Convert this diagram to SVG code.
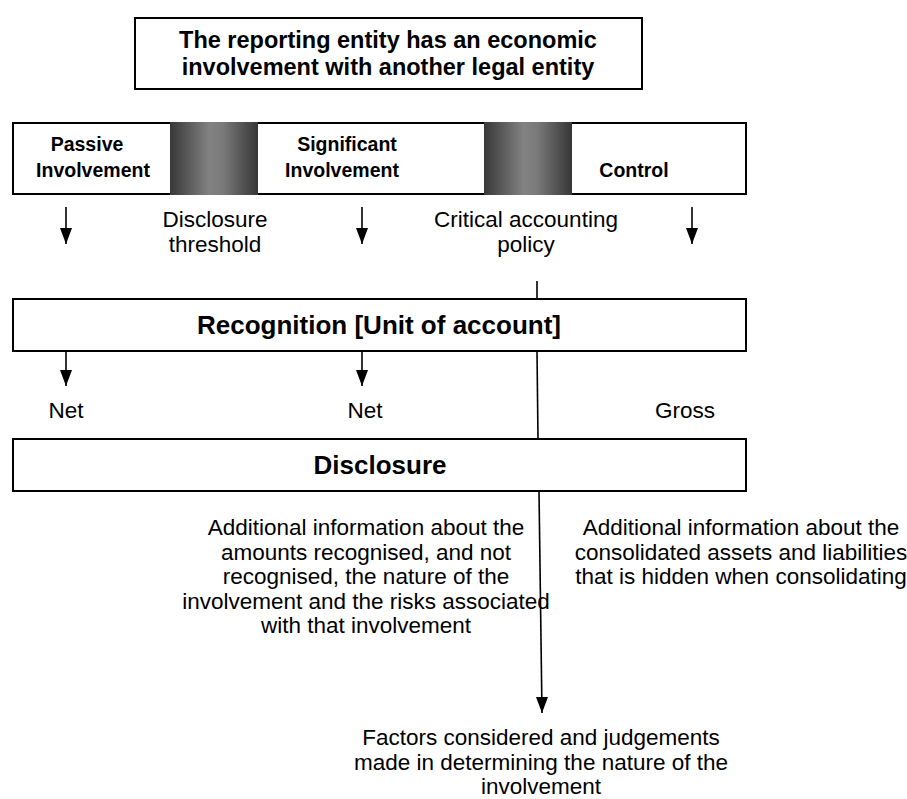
<svg xmlns="http://www.w3.org/2000/svg" width="907" height="799" viewBox="0 0 907 799">
<style>
.box{fill:#fff;stroke:#000;stroke-width:2}
.b{font-family:"Liberation Sans",Arial,sans-serif;font-weight:bold;fill:#000;text-anchor:middle}
.t{font-family:"Liberation Sans",Arial,sans-serif;font-size:22.5px;fill:#000;text-anchor:middle}
.ln{stroke:#000;stroke-width:1.6;fill:none}
</style>
<defs>
<linearGradient id="g" x1="0" y1="0" x2="1" y2="0">
<stop offset="0" stop-color="#383838"/>
<stop offset="0.45" stop-color="#828282"/>
<stop offset="0.6" stop-color="#7a7a7a"/>
<stop offset="1" stop-color="#363636"/>
</linearGradient>
<marker id="av" markerWidth="12" markerHeight="16" refX="6" refY="16" orient="0" markerUnits="userSpaceOnUse" viewBox="0 0 12 16">
<path d="M0,0 L12,0 L6,16 Z" fill="#000"/>
</marker>
</defs>

<g id="top">
<rect class="box" x="135" y="18" width="507" height="71"/>
<text class="b" font-size="23.5" x="388" y="48">The reporting entity has an economic</text>
<text class="b" font-size="23.5" x="388" y="75">involvement with another legal entity</text>
</g>

<g id="band">
<rect class="box" x="13" y="123" width="733" height="71"/>
<rect x="170" y="122" width="88" height="73" fill="url(#g)"/>
<rect x="484" y="122" width="88" height="73" fill="url(#g)"/>
</g>
<g id="passive">
<text class="b" font-size="19.5" x="87" y="151">Passive</text>
<text class="b" font-size="19.5" x="93" y="177">Involvement</text>
</g>
<g id="significant">
<text class="b" font-size="19.5" x="347" y="151">Significant</text>
<text class="b" font-size="19.5" x="342" y="177">Involvement</text>
</g>
<g id="control">
<text class="b" font-size="19.5" x="634" y="177">Control</text>
</g>

<g id="threshold">
<text class="t" x="215" y="227">Disclosure</text>
<text class="t" x="215" y="252">threshold</text>
</g>
<g id="policy">
<text class="t" x="526" y="227">Critical accounting</text>
<text class="t" x="526" y="252">policy</text>
</g>

<g id="recognition">
<rect class="box" x="13" y="299" width="733" height="52"/>
<text class="b" font-size="26" x="379" y="334">Recognition [Unit of account]</text>
</g>

<g id="net1"><text class="t" x="66" y="418">Net</text></g>
<g id="net2"><text class="t" x="365" y="418">Net</text></g>
<g id="gross"><text class="t" x="685" y="418">Gross</text></g>

<g id="disclosure">
<rect class="box" x="13" y="439" width="733" height="52"/>
<text class="b" font-size="26" x="380" y="474">Disclosure</text>
</g>

<g id="info-left">
<text class="t" x="366" y="535">Additional information about the</text>
<text class="t" x="366" y="559.5">amounts recognised, and not</text>
<text class="t" x="366" y="584">recognised, the nature of the</text>
<text class="t" x="366" y="608.5">involvement and the risks associated</text>
<text class="t" x="366" y="633">with that involvement</text>
</g>
<g id="info-right">
<text class="t" x="741" y="535">Additional information about the</text>
<text class="t" x="741" y="559.5">consolidated assets and liabilities</text>
<text class="t" x="741" y="584">that is hidden when consolidating</text>
</g>
<g id="factors">
<text class="t" x="541" y="745">Factors considered and judgements</text>
<text class="t" x="541" y="769.5">made in determining the nature of the</text>
<text class="t" x="541" y="794">involvement</text>
</g>

<g id="connectors">
<line class="ln" x1="66" y1="207" x2="66" y2="244" marker-end="url(#av)"/>
<line class="ln" x1="362" y1="207" x2="362" y2="244" marker-end="url(#av)"/>
<line class="ln" x1="692" y1="207" x2="692" y2="244" marker-end="url(#av)"/>
<line class="ln" x1="66" y1="351" x2="66" y2="386" marker-end="url(#av)"/>
<line class="ln" x1="362" y1="351" x2="362" y2="386" marker-end="url(#av)"/>
<line class="ln" x1="537" y1="281" x2="537" y2="299"/>
<line class="ln" x1="537" y1="351" x2="538" y2="439"/>
<line class="ln" x1="539" y1="491" x2="542" y2="713" marker-end="url(#av)"/>
</g>
</svg>
